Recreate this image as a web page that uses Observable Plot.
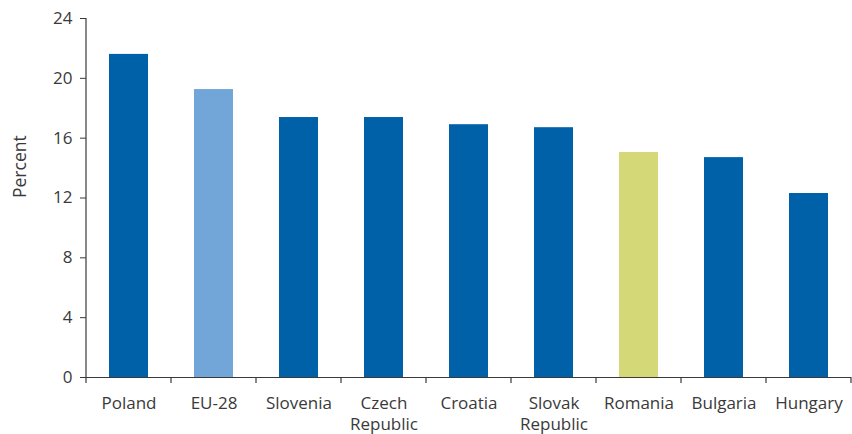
<!DOCTYPE html>
<html>
<head>
<meta charset="utf-8">
<script src="https://cdn.jsdelivr.net/npm/d3@7"></script>
<script src="https://cdn.jsdelivr.net/npm/@observablehq/plot@0.6"></script>
<style>
  html, body { margin: 0; padding: 0; background: #fff; }
  #chart svg { display: block; }
</style>
</head>
<body>
<div id="chart"></div>
<script>
const countries = ["Poland", "EU-28", "Slovenia", "Czech Republic", "Croatia", "Slovak Republic", "Romania", "Bulgaria", "Hungary"];
const values = [21.6, 19.25, 17.38, 17.38, 16.9, 16.7, 15.04, 14.7, 12.3];
const groups = ["country", "eu", "country", "country", "country", "country", "romania", "country", "country"];
const yTicks = [0, 4, 8, 12, 16, 20, 24];
const tickLabels = {"Czech Republic": "Czech\nRepublic", "Slovak Republic": "Slovak\nRepublic"};

const data = countries.map((c, i) => ({country: c, value: values[i], group: groups[i]}));
const font = "'Open Sans', 'Noto Sans', sans-serif";
const ink = "#3a3a3a";

const chart = Plot.plot({
  width: 852,
  height: 434,
  marginLeft: 86,
  marginRight: 1,
  marginTop: 18,
  marginBottom: 57,
  style: {fontFamily: font, fontSize: "17px", color: ink, background: "#fff"},
  x: {domain: countries, paddingInner: 0.54, paddingOuter: 0.27, axis: null},
  y: {domain: [0, 24], axis: null},
  color: {domain: ["country", "eu", "romania"], range: ["#0061a9", "#72a6d8", "#d4d877"]},
  marks: [
    Plot.barY(data, {x: "country", y: "value", fill: "group"}),
    Plot.axisY({ticks: yTicks, tickSize: 6, tickPadding: 8, label: null, fontSize: 17, stroke: ink, fill: ink}),
    Plot.axisX({tickSize: 0, tickPadding: 16, label: null, fontSize: 17, lineHeight: 1.25, fill: ink,
      tickFormat: d => tickLabels[d] || d}),
    Plot.ruleY([0], {stroke: ink, strokeWidth: 1.2}),
    Plot.text(["Percent"], {frameAnchor: "left", rotate: -90, dx: -66, fontSize: 17.5, fill: ink})
  ]
});

// axis lines and category boundary ticks derived from the library's scales
const svg = d3.select(chart);
const xs = chart.scale("x");
const ys = chart.scale("y");
const gap = (xs.step - xs.bandwidth) / 2;
const bounds = xs.domain.map(d => xs.apply(d) - gap);
bounds.push(xs.apply(xs.domain[xs.domain.length - 1]) + xs.bandwidth + gap);
const y0 = ys.apply(0), yTop = ys.apply(24);
const g = svg.append("g").attr("stroke", ink).attr("stroke-width", 1.2);
g.append("line").attr("x1", bounds[0]).attr("x2", bounds[0]).attr("y1", yTop).attr("y2", y0);
bounds.forEach(b => {
  g.append("line").attr("x1", b).attr("x2", b).attr("y1", y0).attr("y2", y0 + 6);
});

document.getElementById("chart").appendChild(chart);
</script>
</body>
</html>
